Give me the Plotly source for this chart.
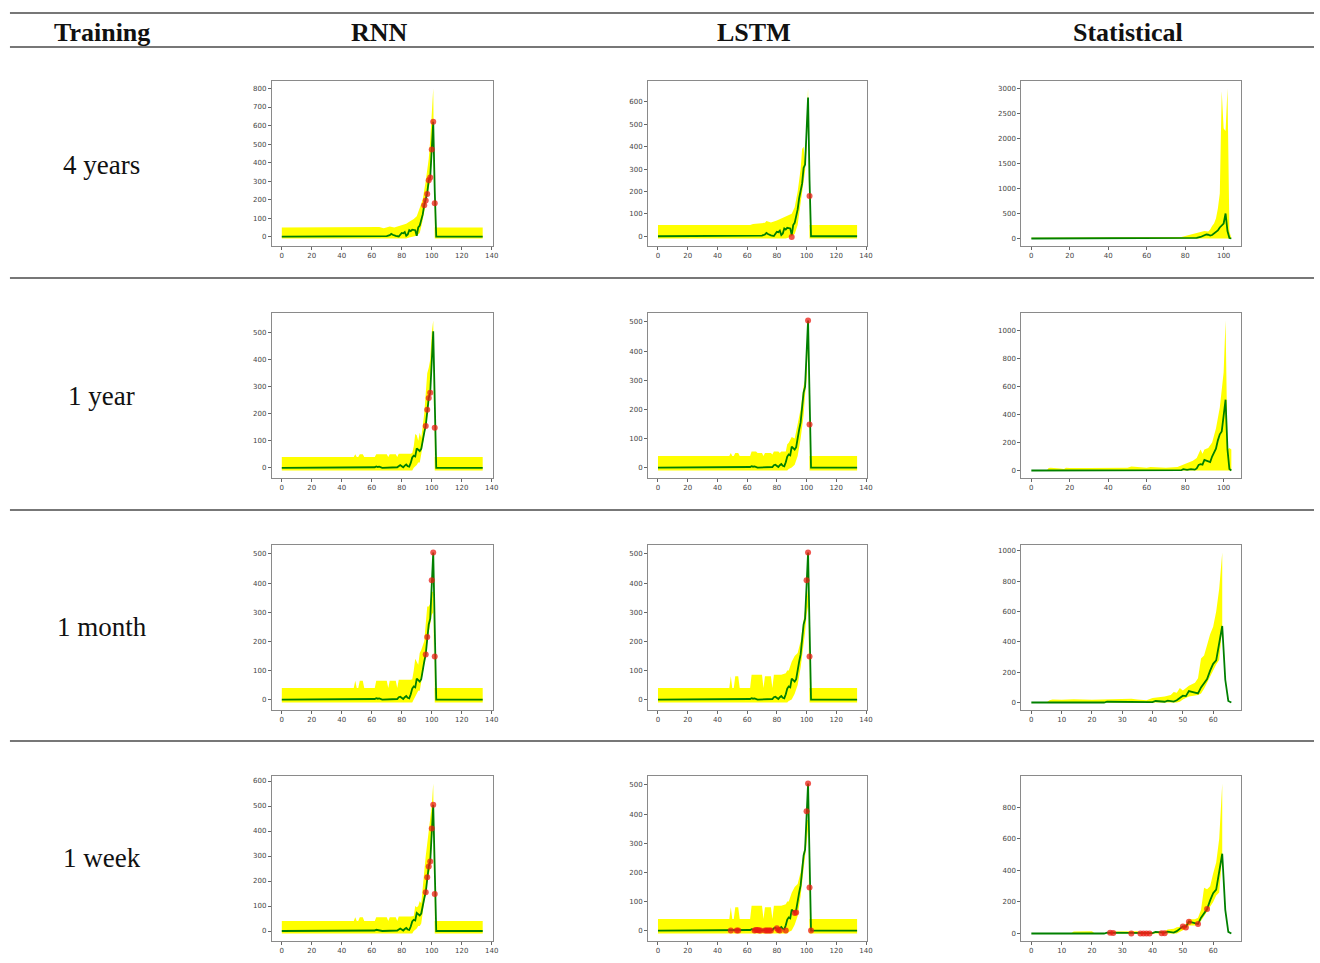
import plotly.graph_objects as go

W, H = 1320, 963

# ---------------- table text ----------------
col_headers = ["Training", "RNN", "LSTM", "Statistical"]
row_labels = ["4 years", "1 year", "1 month", "1 week"]

# ---------------- observed / fitted curves (green) ----------------
X_4Y = [0, 60, 62, 64, 66, 68, 70, 72, 73, 74, 75, 76, 78, 80, 81, 82, 83, 84, 85, 86, 87, 88, 89, 90,
        91, 92, 93, 94, 95, 96, 97, 98, 99, 100, 101, 102, 103, 134]
Y_4Y = [0, 0, 2, 1, 0, 0, 3, 8, 15, 10, 6, 4, 1, 20, 18, 25, 5, 12, 35, 30, 38, 36, 35, 5,
        50, 60, 90, 120, 170, 200, 235, 305, 320, 470, 620, 250, 0, 0]

X_B = [0, 48, 50, 51, 52, 53, 62, 63, 64, 65, 66, 67, 77, 78, 79, 80, 81, 82, 83, 84, 85, 86, 87, 88,
       89, 90, 91, 92, 93, 94, 95, 96, 97, 98, 99, 100, 101, 102, 103, 134]
Y_B = [0, 0, 1, 2, 1, 0, 2, 5, 3, 4, 1, 0, 2, 8, 10, 6, 2, 8, 12, 6, 4, 18, 38, 45,
       42, 72, 65, 62, 70, 105, 130, 155, 215, 258, 278, 410, 505, 250, 0, 0]

X_S1 = [0, 70, 78, 80, 82, 84, 86, 88, 89, 90, 91, 92, 93, 94, 95, 96, 97, 98, 99, 100, 101, 102, 103, 104]
Y_S1 = [0, 0, 2, 5, 8, 10, 12, 30, 45, 50, 80, 75, 60, 70, 100, 130, 160, 220, 260, 300, 500, 150, 10, 0]

X_S2 = [0, 62, 63, 70, 78, 79, 80, 81, 83, 85, 86, 87, 88, 89, 90, 91, 92, 93, 94, 95, 96, 97, 98, 99,
        100, 101, 102, 103, 104]
Y_S2 = [0, 0, 5, 2, 2, 10, 8, 4, 10, 6, 15, 40, 45, 42, 75, 70, 65, 60, 100, 130, 155, 215, 258, 278,
        410, 505, 150, 10, 0]

X_S3 = [0, 24, 25, 32, 40, 41, 42, 43, 44, 45, 47, 48, 49, 50, 51, 52, 53, 54, 55, 56, 57, 58, 59, 60,
        61, 62, 63, 64, 65, 66]
Y_S3 = [0, 0, 5, 2, 2, 10, 8, 4, 5, 12, 6, 15, 30, 45, 42, 75, 70, 65, 60, 100, 130, 155, 210, 255,
        278, 390, 505, 150, 10, 0]

# ---------------- confidence bands (yellow) ----------------
BX_R1 = [0, 60, 62, 65, 68, 72, 75, 78, 80, 83, 85, 88, 90, 92, 94, 96, 98, 99, 100, 101, 102, 103, 134]
HI_R1 = [50, 50, 48, 52, 46, 55, 50, 58, 62, 70, 80, 95, 110, 150, 200, 300, 420, 520, 640, 800, 50, 50, 50]
LO_R1 = [-10, -10, -10, -10, -10, -10, -10, -10, -10, -10, -5, 0, 5, 20, 90, 180, 250, 300, 420, 550, -10, -10, -10]

BX_L1 = [0, 62, 64, 68, 72, 73, 76, 80, 83, 86, 88, 90, 92, 94, 96, 97, 98, 99, 100, 101, 102, 103, 134]
HI_L1 = [50, 50, 55, 58, 60, 68, 62, 70, 80, 90, 95, 100, 130, 200, 300, 390, 400, 330, 500, 660, 50, 50, 50]
LO_L1 = [-10, -10, -10, -10, -10, -10, -10, -10, -10, -10, -5, 0, 10, 50, 150, 200, 250, 290, 400, 560, -10, -10, -10]

BX_S1 = [0, 20, 40, 60, 70, 78, 80, 82, 85, 88, 90, 92, 93, 94, 95, 96, 97, 98, 99, 100, 101, 102, 103, 104]
HI_S1 = [15, 15, 15, 20, 20, 30, 50, 70, 100, 140, 150, 140, 180, 250, 300, 400, 600, 900, 2950, 2200, 2150, 3000, 150, 0]
LO_S1 = [0, 0, 0, 0, 0, 0, 0, 0, 0, 0, 0, 0, 0, 0, 0, 0, 0, 0, 0, 0, 0, 0, 0, 0]

BX_R = [0, 48, 49, 50, 51, 52, 54, 55, 62, 63, 70, 71, 72, 76, 77, 78, 86, 87, 88, 89, 90, 91, 92, 93,
        95, 96, 97, 98, 99, 100, 101, 102, 134]
HI_R2 = [40, 40, 50, 40, 40, 50, 50, 40, 40, 50, 50, 40, 50, 50, 40, 52, 52, 55, 80, 125, 120, 100, 130, 110,
         200, 300, 350, 370, 400, 500, 545, 40, 40]
LO_R2 = [-10, -10, -10, -10, -10, -10, -10, -10, -10, -10, -10, -10, -10, -10, -10, -10, -10, -10, 0, 5, 10, 20, 20, 50,
         120, 150, 190, 240, 320, 400, 430, -10, -10]
HI_R3 = [40, 40, 65, 40, 40, 65, 65, 40, 40, 65, 65, 40, 65, 65, 40, 68, 68, 70, 100, 140, 130, 120, 160, 170,
         200, 250, 320, 320, 330, 370, 370, 40, 40]
LO_R3 = [-10, -10, -10, -10, -10, -10, -10, -10, -10, -10, -10, -10, -10, -10, -10, -10, -10, -10, 0, 10, 20, 30, 30, 60,
         130, 150, 200, 230, 250, 290, 300, -10, -10]
HI_R4 = [40, 40, 55, 40, 40, 55, 55, 40, 40, 55, 55, 40, 55, 55, 40, 58, 58, 60, 60, 100, 95, 100, 120, 110,
         250, 300, 350, 400, 430, 500, 590, 40, 40]
LO_R4 = [-10, -10, -10, -10, -10, -10, -10, -10, -10, -10, -10, -10, -10, -10, -10, -10, -10, -10, 0, 5, 10, 20, 20, 30,
         130, 160, 200, 230, 250, 350, 450, -10, -10]

BX_L = [0, 48, 49, 50, 51, 52, 54, 55, 62, 63, 66, 67, 70, 71, 72, 76, 77, 78, 81, 82, 83, 86,
        87, 88, 90, 92, 94, 96, 98, 99, 100, 101, 102, 134]
HI_L2 = [40, 40, 50, 40, 40, 50, 50, 40, 40, 55, 55, 50, 50, 40, 50, 50, 45, 55, 55, 50, 55, 55,
         80, 85, 105, 100, 150, 200, 280, 300, 400, 505, 40, 40]
LO_L2 = [-10, -10, -10, -10, -10, -10, -10, -10, -10, -10, -10, -10, -10, -10, -10, -10, -10, -10, -10, -10, -10, -10,
         -10, -5, 0, 10, 40, 100, 180, 250, 300, 450, -10, -10]
HI_L3 = [40, 40, 80, 40, 40, 80, 80, 40, 40, 85, 85, 85, 85, 40, 80, 80, 40, 85, 85, 85, 85, 90,
         100, 100, 130, 150, 160, 200, 280, 300, 350, 380, 40, 40]
LO_L3 = [-10, -10, -10, -10, -10, -10, -10, -10, -10, -10, -10, -10, -10, -10, -10, -10, -10, -10, -10, -10, -10, -10,
         -10, -5, 0, 20, 50, 110, 180, 230, 290, 320, -10, -10]
HI_L4 = [40, 40, 80, 40, 40, 80, 80, 40, 40, 85, 85, 85, 85, 40, 80, 80, 40, 85, 85, 85, 85, 90,
         100, 100, 130, 150, 160, 200, 280, 300, 380, 380, 40, 40]
LO_L4 = [-10, -10, -10, -10, -10, -10, -10, -10, -10, -10, -10, -10, -10, -10, -10, -10, -10, -10, -10, -10, -10, -10,
         -10, -5, 0, 20, 50, 120, 200, 240, 300, 350, -10, -10]

BX_S2 = [0, 8, 9, 10, 15, 17, 18, 20, 30, 40, 50, 52, 55, 60, 62, 70, 76, 78, 80, 82, 84, 86, 88, 89,
         90, 92, 94, 96, 98, 100, 101, 102, 103, 104]
HI_S2 = [0, 0, 18, 20, 15, 10, 20, 18, 18, 20, 20, 28, 25, 20, 25, 20, 25, 35, 45, 60, 70, 90, 150, 120,
         150, 160, 200, 300, 450, 700, 1070, 150, 160, 150]
LO_S2 = [0, 0, 0, 0, 0, 0, 0, 0, 0, 0, 0, 0, 0, 0, 0, 0, 0, 0, 0, 0, 0, 0, 0, 0,
         0, 0, 0, 0, 0, 0, 0, 0, 0, 0]

BX_S3 = [0, 5, 6, 7, 10, 14, 20, 25, 30, 33, 35, 38, 40, 42, 44, 46, 47, 48, 49, 50, 52, 54, 55, 56,
         57, 58, 59, 60, 61, 62, 63, 63]
HI_S3 = [0, 0, 15, 20, 18, 22, 18, 20, 20, 25, 20, 15, 30, 35, 40, 50, 70, 65, 95, 80, 110, 130, 160, 290,
         310, 380, 450, 500, 600, 750, 990, 500]
LO_S3 = [0, 0, 0, 0, 0, 0, 0, 0, 0, 0, 0, 0, 0, 0, 0, 0, 0, 0, 5, 20, 40, 45, 50, 60,
         90, 130, 170, 220, 250, 280, 500, 500]

BX_S4 = [0, 13, 14, 20, 21, 26, 27, 35, 36, 40, 44, 45, 47, 48, 50, 51, 52, 54, 55, 56, 57, 58, 59, 60,
         61, 62, 63, 63]
HI_S4 = [0, 0, 12, 15, 0, 0, 12, 15, 5, 10, 15, 25, 30, 40, 45, 60, 90, 90, 100, 150, 290, 280, 300, 380,
         450, 600, 950, 500]
LO_S4 = [0, 0, 0, 0, 0, 0, 0, 0, 0, 0, 0, 0, 0, 0, 20, 30, 50, 50, 60, 80, 110, 140, 170, 200,
         240, 260, 500, 500]

# ---------------- red observation dots ----------------
RX_R1 = [95, 96, 97, 98, 99, 100, 101, 102]
RY_R1 = [170, 195, 230, 305, 320, 470, 620, 180]
RX_L1 = [90, 102]
RY_L1 = [-3, 180]
RX_R2 = [96, 97, 98, 99, 102]
RY_R2 = [155, 215, 258, 278, 148]
RX_L2 = [101, 102]
RY_L2 = [505, 148]
RX_R3 = [96, 97, 100, 101, 102]
RY_R3 = [155, 215, 410, 505, 148]
RX_L3 = [100, 101, 102]
RY_L3 = [410, 505, 148]
RX_R4 = [96, 97, 98, 99, 100, 101, 102]
RY_R4 = [155, 215, 258, 278, 410, 505, 148]
RX_L4 = [49, 53, 54, 65, 66, 67, 68, 69, 72, 73, 74, 75, 76, 80, 81, 82, 86, 92, 93, 100, 101, 102, 103]
RY_L4 = [0, 0, 0, 0, 2, 2, 0, 0, 0, 0, 0, 0, 0, 8, 2, 0, 0, 60, 62, 410, 505, 148, 0]
RX_S4 = [26, 27, 33, 36, 37, 38, 39, 43, 44, 50, 51, 52, 55, 58]
RY_S4 = [5, 3, 0, 0, 0, 0, 0, 2, 2, 45, 38, 75, 60, 155]

# ---------------- panel definitions ----------------
# (band x, band lo, band hi, line x, line y, dots x, dots y, x tick step, y tick step)
panels = [
    [(BX_R1, LO_R1, HI_R1, X_4Y, Y_4Y, RX_R1, RY_R1, 20, 100),
     (BX_L1, LO_L1, HI_L1, X_4Y, Y_4Y, RX_L1, RY_L1, 20, 100),
     (BX_S1, LO_S1, HI_S1, X_S1, Y_S1, [], [], 20, 500)],
    [(BX_R, LO_R2, HI_R2, X_B, Y_B, RX_R2, RY_R2, 20, 100),
     (BX_L, LO_L2, HI_L2, X_B, Y_B, RX_L2, RY_L2, 20, 100),
     (BX_S2, LO_S2, HI_S2, X_S2, Y_S2, [], [], 20, 200)],
    [(BX_R, LO_R3, HI_R3, X_B, Y_B, RX_R3, RY_R3, 20, 100),
     (BX_L, LO_L3, HI_L3, X_B, Y_B, RX_L3, RY_L3, 20, 100),
     (BX_S3, LO_S3, HI_S3, X_S3, Y_S3, [], [], 10, 200)],
    [(BX_R, LO_R4, HI_R4, X_B, Y_B, RX_R4, RY_R4, 20, 100),
     (BX_L, LO_L4, HI_L4, X_B, Y_B, RX_L4, RY_L4, 20, 100),
     (BX_S4, LO_S4, HI_S4, X_S3, Y_S3, RX_S4, RY_S4, 10, 200)],
]

# pixel frames of the axes
col_px = [(273, 495), (651, 871), (1026, 1247)]
row_px = [(81, 246), (313, 478), (545, 710), (776, 941)]

fig = go.Figure()
layout = {}
k = 0
for r, row in enumerate(panels):
    for c, (bx, lo, hi, lx, ly, dx, dy, xdt, ydt) in enumerate(row):
        k += 1
        xa = "x" if k == 1 else f"x{k}"
        ya = "y" if k == 1 else f"y{k}"
        fig.add_trace(go.Scatter(x=bx, y=lo, mode="lines", line=dict(width=0, color="#ffff00"),
                                 hoverinfo="skip", showlegend=False, xaxis=xa, yaxis=ya))
        fig.add_trace(go.Scatter(x=bx, y=hi, mode="lines", line=dict(width=0, color="#ffff00"),
                                 fill="tonexty", fillcolor="#ffff00",
                                 hoverinfo="skip", showlegend=False, xaxis=xa, yaxis=ya))
        fig.add_trace(go.Scatter(x=lx, y=ly, mode="lines", line=dict(width=1.8, color="#008000"),
                                 showlegend=False, xaxis=xa, yaxis=ya))
        if dx:
            fig.add_trace(go.Scatter(x=dx, y=dy, mode="markers",
                                     marker=dict(size=6, color="rgba(235,30,20,0.75)", line=dict(width=0)),
                                     showlegend=False, xaxis=xa, yaxis=ya))
        allx = list(bx) + list(lx) + list(dx)
        ally = list(lo) + list(hi) + list(ly) + list(dy)
        x0, x1 = min(allx), max(allx)
        y0, y1 = min(ally), max(ally)
        px, py = 0.05 * (x1 - x0), 0.05 * (y1 - y0)
        (cl, cr), (rt, rb) = col_px[c], row_px[r]
        axstyle = dict(showline=True, mirror=True, linecolor="#8a8a8a", linewidth=1,
                       showgrid=False, zeroline=False, ticks="outside", ticklen=3,
                       tickcolor="#666", tickwidth=0.8,
                       tickfont=dict(size=7, color="#444", family="DejaVu Sans"))
        layout["xaxis" if k == 1 else f"xaxis{k}"] = dict(
            axstyle, domain=[cl / W, cr / W], anchor=ya, range=[x0 - px, x1 + px],
            tick0=0, dtick=xdt)
        layout["yaxis" if k == 1 else f"yaxis{k}"] = dict(
            axstyle, domain=[1 - rb / H, 1 - rt / H], anchor=xa, range=[y0 - py, y1 + py],
            tick0=0, dtick=ydt)

# table rules
shapes = []
for yy in [13, 47, 278, 510, 741]:
    shapes.append(dict(type="line", xref="paper", yref="paper", x0=10 / W, x1=1.0,
                       y0=1 - yy / H, y1=1 - yy / H, line=dict(color="#4a4a4a", width=1.3)))

annotations = []
head_x = [102, 381, 757, 1133]
for t, hx in zip(col_headers, head_x):
    annotations.append(dict(text=f"<b>{t}</b>", x=hx / W, y=1 - 32 / H, xref="paper", yref="paper",
                            showarrow=False, xanchor="center", yanchor="middle",
                            font=dict(family="Liberation Serif", size=26, color="#111")))
row_y = [165, 396, 627, 858]
for t, ry in zip(row_labels, row_y):
    annotations.append(dict(text=t, x=102 / W, y=1 - ry / H, xref="paper", yref="paper",
                            showarrow=False, xanchor="center", yanchor="middle",
                            font=dict(family="Liberation Serif", size=27, color="#111")))

fig.update_layout(width=W, height=H, margin=dict(l=0, r=0, t=0, b=0),
                  paper_bgcolor="white", plot_bgcolor="white",
                  shapes=shapes, annotations=annotations, showlegend=False, **layout)

fig.write_html("out.html", config={"displayModeBar": False})
